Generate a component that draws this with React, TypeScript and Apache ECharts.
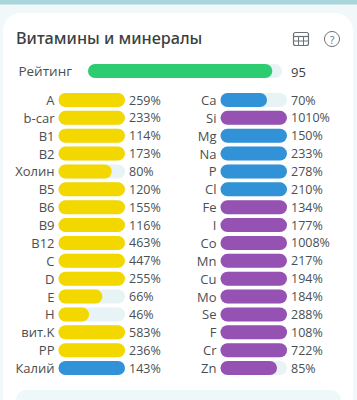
import React, { useEffect, useRef } from "react";
import * as echarts from "echarts";

const leftNames = ["A","b-car","B1","B2","Холин","B5","B6","B9","B12","C","D","E","H","вит.K","PP","Калий"];
const leftValues = [259,233,114,173,80,120,155,116,463,447,255,66,46,583,236,143];
const leftColors = ["y","y","y","y","y","y","y","y","y","y","y","y","y","y","y","b"];
const rightNames = ["Ca","Si","Mg","Na","P","Cl","Fe","I","Co","Mn","Cu","Mo","Se","F","Cr","Zn"];
const rightValues = [70,1010,150,233,278,210,134,177,1008,217,194,184,288,108,722,85];
const rightColors = ["b","p","b","b","b","b","p","p","p","p","p","p","p","p","p","p"];
const ratingValue = 95;
const palette: Record<string,string> = { y: "#f3d800", b: "#3292d8", p: "#9652b2", g: "#2ecc71" };
const textColor = "#4a4f52";
const track = "#e8f3f6";
const font = "'Open Sans', sans-serif";

const ROW = 17.87;
const TOP = 100 - ROW / 2;
const H = ROW * 16;

function panel(idx: number, names: string[], values: number[], colors: string[], left: number, width: number) {
  return {
    grid: { left, width, top: TOP, height: H },
    xAxis: { gridIndex: idx, type: "value", min: 0, max: 100, show: false },
    yAxes: [
      { gridIndex: idx, type: "category", inverse: true, data: names, position: "left",
        axisLine: { show: false }, axisTick: { show: false },
        axisLabel: { color: textColor, fontSize: 13, fontFamily: font, margin: 4 } },
      { gridIndex: idx, type: "category", inverse: true, data: values.map(v => v + "%"), position: "right",
        axisLine: { show: false }, axisTick: { show: false },
        axisLabel: { color: textColor, fontSize: 12.5, fontFamily: font, margin: 4 } },
    ],
    series: (yAxisIndex: number) => ({
      type: "bar", xAxisIndex: idx, yAxisIndex, barWidth: 14, silent: true,
      showBackground: true,
      backgroundStyle: { color: track, borderRadius: 7 },
      data: values.map((v, i) => ({
        value: Math.min(v, 100),
        itemStyle: { color: palette[colors[i]], borderRadius: 7 },
      })),
    }),
  };
}

export default function App() {
  const ref = useRef<HTMLDivElement>(null);
  useEffect(() => {
    document.body.style.margin = "0";
    const chart = echarts.init(ref.current!, undefined, { renderer: "svg" });
    const L = panel(1, leftNames, leftValues, leftColors, 58.5, 66.5);
    const R = panel(2, rightNames, rightValues, rightColors, 220.5, 66.5);
    chart.setOption({
      animation: false,
      backgroundColor: "#f1f8fa",
      grid: [
        { left: 88, width: 194, top: 62, height: 18 },
        L.grid,
        R.grid,
      ],
      xAxis: [
        { gridIndex: 0, type: "value", min: 0, max: 100, show: false },
        L.xAxis,
        R.xAxis,
      ],
      yAxis: [
        { gridIndex: 0, type: "category", data: ["Рейтинг"], axisLine: { show: false }, axisTick: { show: false },
          axisLabel: { color: textColor, fontSize: 13.5, fontFamily: font, margin: 16 } },
        ...L.yAxes,
        ...R.yAxes,
      ],
      series: [
        { type: "bar", xAxisIndex: 0, yAxisIndex: 0, barWidth: 14, silent: true,
          showBackground: true, backgroundStyle: { color: track, borderRadius: 7 },
          itemStyle: { color: palette.g, borderRadius: 7 },
          data: [ratingValue],
          label: { show: false } },
        L.series(1),
        R.series(3),
        { type: "bar", xAxisIndex: 1, yAxisIndex: 2, data: [] },
        { type: "bar", xAxisIndex: 2, yAxisIndex: 4, data: [] },
      ],
      graphic: [
        { type: "rect", z: -10, shape: { x: 0, y: 0, width: 357, height: 4.5 }, style: { fill: "#a9d6dc" } },
        { type: "rect", z: -9, shape: { x: 3, y: 13, width: 350, height: 400, r: 18 }, style: { fill: "#ffffff" } },
        { type: "rect", z: -8, shape: { x: 16, y: 390, width: 325, height: 30, r: 10 }, style: { fill: "#eef7f9" } },
        { type: "text", x: 16, y: 38, style: { text: "Витамины и минералы", fill: "#3a3f42", font: "500 16.2px 'Noto Sans', sans-serif", textVerticalAlign: "middle" } },
        { type: "text", x: 291, y: 71.5, style: { text: String(ratingValue), fill: "#3a3f42", font: "500 13px 'Open Sans', sans-serif", textVerticalAlign: "middle" } },
        { type: "rect", shape: { x: 293.5, y: 32.5, width: 15, height: 13, r: 2 }, style: { fill: "none", stroke: "#6a7276", lineWidth: 1.2 } },
        { type: "line", shape: { x1: 293.5, y1: 36.5, x2: 308.5, y2: 36.5 }, style: { stroke: "#6a7276", lineWidth: 1.2 } },
        { type: "line", shape: { x1: 293.5, y1: 41, x2: 308.5, y2: 41 }, style: { stroke: "#6a7276", lineWidth: 1 } },
        { type: "line", shape: { x1: 298.5, y1: 36.5, x2: 298.5, y2: 45.5 }, style: { stroke: "#6a7276", lineWidth: 1 } },
        { type: "line", shape: { x1: 303.5, y1: 36.5, x2: 303.5, y2: 45.5 }, style: { stroke: "#6a7276", lineWidth: 1 } },
        { type: "circle", shape: { cx: 332, cy: 39, r: 7.5 }, style: { fill: "none", stroke: "#6a7276", lineWidth: 1 } },
        { type: "text", x: 332, y: 39, style: { text: "?", fill: "#6a7276", font: "11px 'Open Sans', sans-serif", textAlign: "center", textVerticalAlign: "middle" } },
      ],
    });
    return () => chart.dispose();
  }, []);
  return <div ref={ref} style={{ position: "absolute", left: 0, top: 0, width: 357, height: 400 }} />;
}
